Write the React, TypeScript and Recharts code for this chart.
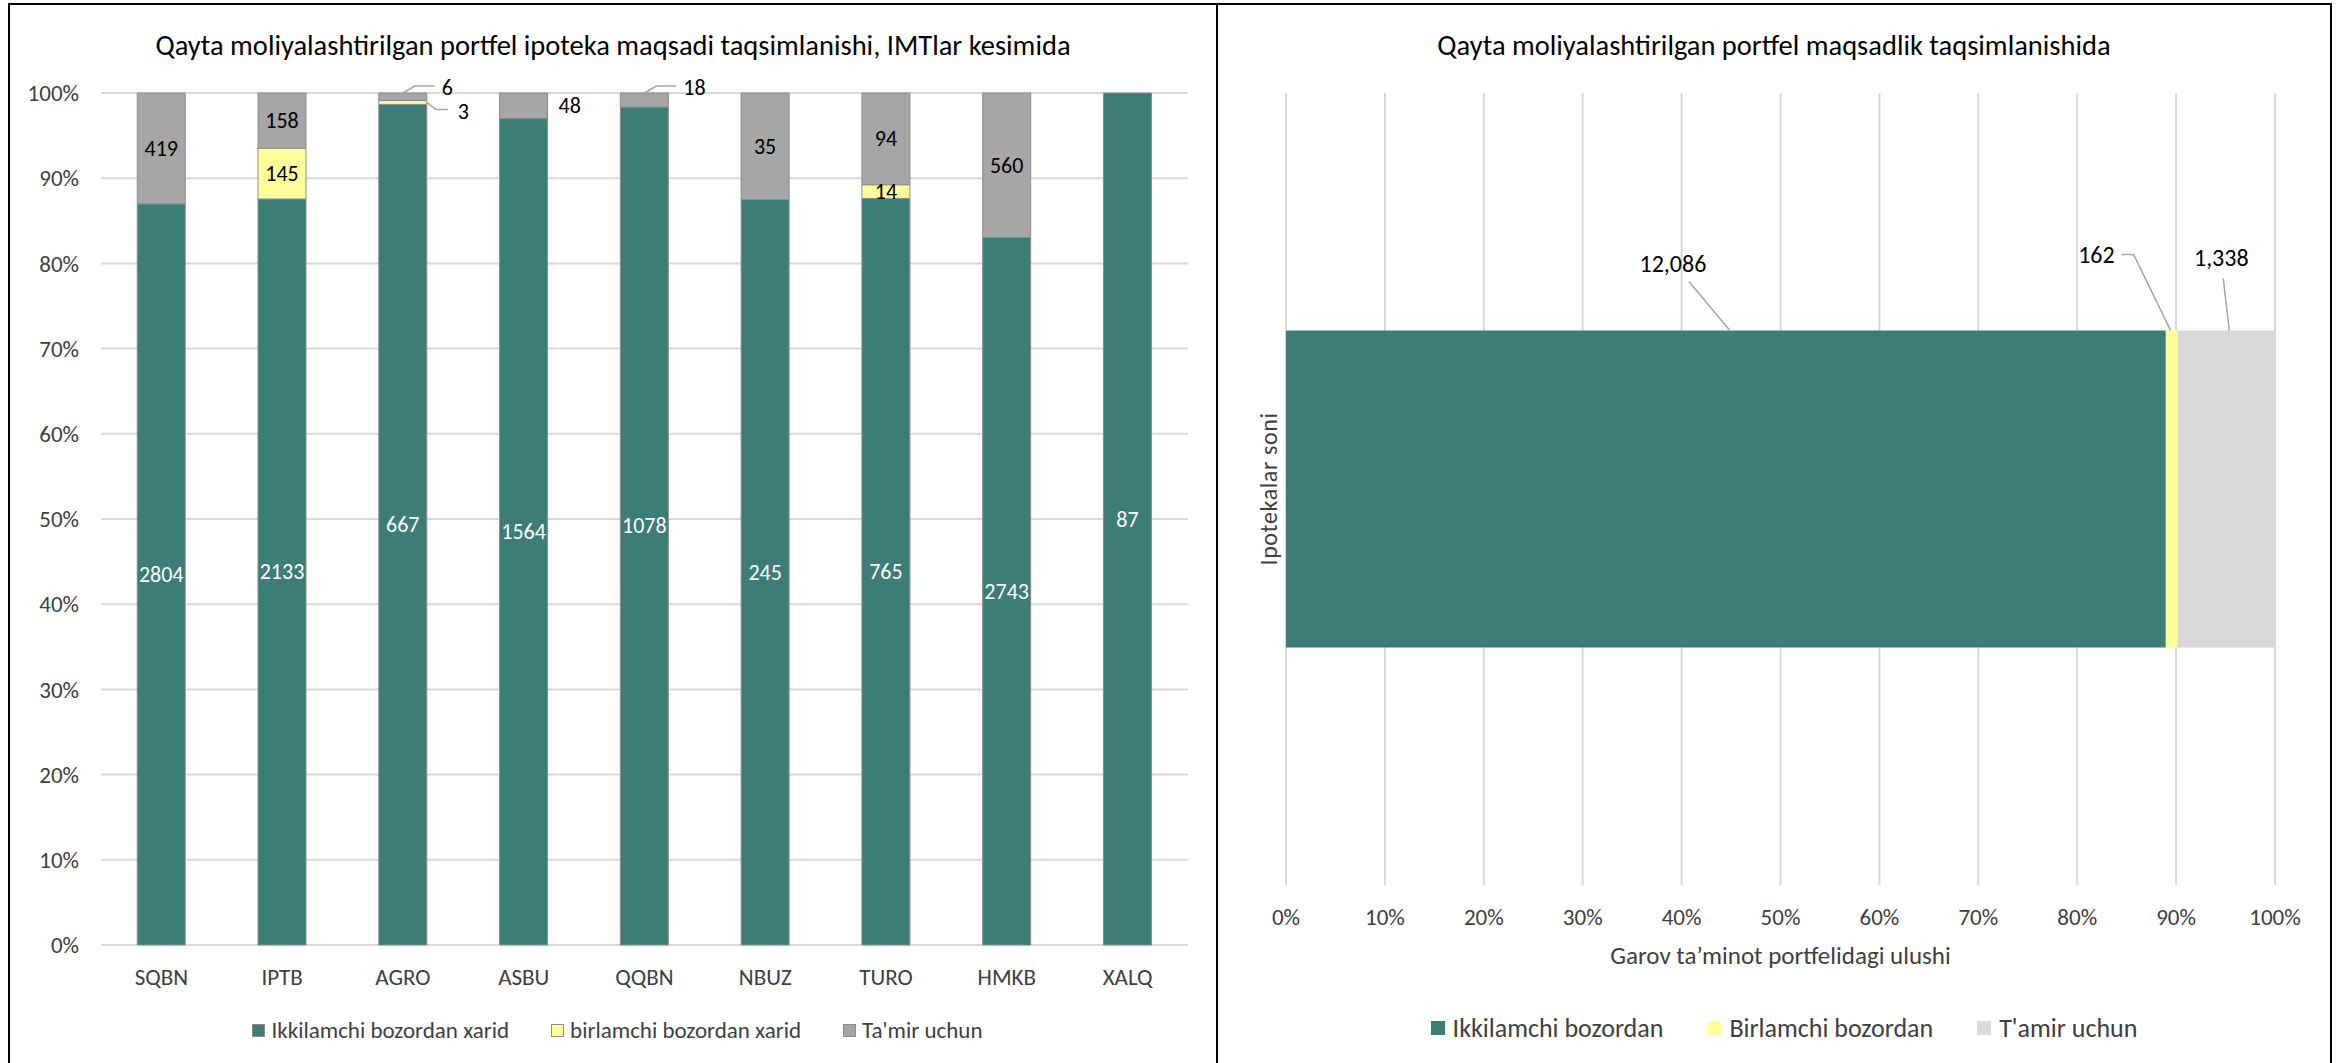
import React from 'react';
import { BarChart, Bar, XAxis, YAxis, CartesianGrid, Legend, LabelList, Label } from 'recharts';

// ---------------- Data ----------------
const banks = ['SQBN', 'IPTB', 'AGRO', 'ASBU', 'QQBN', 'NBUZ', 'TURO', 'HMKB', 'XALQ'];
const ikkilamchiXarid = [2804, 2133, 667, 1564, 1078, 245, 765, 2743, 87];
const birlamchiXarid = [0, 145, 3, 0, 0, 0, 14, 0, 0];
const tamirUchun = [419, 158, 6, 48, 18, 35, 94, 560, 0];

const portfelCategories = ['Ipotekalar soni'];
const portfelIkkilamchi = [12086];
const portfelBirlamchi = [162];
const portfelTamir = [1338];

const percentTicks = [0, 0.1, 0.2, 0.3, 0.4, 0.5, 0.6, 0.7, 0.8, 0.9, 1];

const leftTitle = 'Qayta moliyalashtirilgan portfel ipoteka maqsadi taqsimlanishi, IMTlar kesimida';
const rightTitle = 'Qayta moliyalashtirilgan portfel maqsadlik taqsimlanishida';
const leftSeriesNames = ['Ikkilamchi bozordan xarid', 'birlamchi bozordan xarid', "Ta'mir uchun"];
const rightSeriesNames = ['Ikkilamchi bozordan', 'Birlamchi bozordan', "T'amir uchun"];
const rightAxisTitle = 'Garov ta\u2019minot portfelidagi ulushi';
const rightCategoryTitle = 'Ipotekalar soni';

// ---------------- Styles ----------------
const FONT = 'Carlito, Lato, "Open Sans", sans-serif';
const TEAL = '#3C7D78';
const YELLOW = '#FFFF99';
const GRAY = '#A6A6A6';
const LIGHT_GRAY = '#D9D9D9';
const GRID = '#D9D9D9';
const TEXT = '#404040';
const LEADER = '#A6A6A6';

const seriesOrder = ['ikk', 'bir', 'tam'];
const leftColors: Record<string, string> = { ikk: TEAL, bir: YELLOW, tam: GRAY };
const rightColors: Record<string, string> = { ikk: TEAL, bir: YELLOW, tam: LIGHT_GRAY };

const leftData = banks.map((bank, i) => ({
  bank,
  ikk: ikkilamchiXarid[i],
  bir: birlamchiXarid[i],
  tam: tamirUchun[i],
}));

const rightData = portfelCategories.map((name, i) => ({
  name,
  ikk: portfelIkkilamchi[i],
  bir: portfelBirlamchi[i],
  tam: portfelTamir[i],
}));

const pct = (v: number) => `${Math.round(v * 100)}%`;

function rectOf(p: any) {
  const vb = p.viewBox || {};
  let x = vb.x ?? p.x;
  let y = vb.y ?? p.y;
  let w = vb.width ?? p.width;
  let h = vb.height ?? p.height;
  if (h < 0) { y = y + h; h = -h; }
  if (w < 0) { x = x + w; w = -w; }
  return { x: Number(x), y: Number(y), w: Number(w), h: Number(h) };
}

const LBL = 22;

function TealLabel(p: any) {
  const v = Number(p.value);
  if (!v) return null;
  const { x, y, w, h } = rectOf(p);
  return (
    <text x={x + w / 2} y={y + h / 2} fill="#fff" textAnchor="middle" dominantBaseline="central" fontSize={LBL} fontFamily={FONT}>
      {v}
    </text>
  );
}

function YellowLabel(p: any) {
  const v = Number(p.value);
  if (!v) return null;
  const { x, y, w, h } = rectOf(p);
  if (h >= 12) {
    return (
      <text x={x + w / 2} y={y + h / 2} fill="#000" textAnchor="middle" dominantBaseline="central" fontSize={LBL} fontFamily={FONT}>
        {v}
      </text>
    );
  }
  const sx = x + w;
  const sy = y + h / 2;
  return (
    <g>
      <polyline points={`${sx},${sy} ${sx + 9},${sy + 7} ${sx + 21},${sy + 7}`} fill="none" stroke={LEADER} strokeWidth={1.5} />
      <text x={sx + 31} y={sy + 9} fill="#000" textAnchor="start" dominantBaseline="central" fontSize={LBL} fontFamily={FONT}>
        {v}
      </text>
    </g>
  );
}

function GrayLabel(p: any) {
  const v = Number(p.value);
  if (!v) return null;
  const { x, y, w, h } = rectOf(p);
  if (h >= 30) {
    return (
      <text x={x + w / 2} y={y + h / 2} fill="#000" textAnchor="middle" dominantBaseline="central" fontSize={LBL} fontFamily={FONT}>
        {v}
      </text>
    );
  }
  if (h >= 20) {
    return (
      <text x={x + w + 11} y={y + h / 2} fill="#000" textAnchor="start" dominantBaseline="central" fontSize={LBL} fontFamily={FONT}>
        {v}
      </text>
    );
  }
  const cx = x + w / 2;
  return (
    <g>
      <polyline points={`${cx},${y} ${cx + 12},${y - 7} ${x + w + 8},${y - 7}`} fill="none" stroke={LEADER} strokeWidth={1.5} />
      <text x={x + w + 15} y={y - 6} fill="#000" textAnchor="start" dominantBaseline="central" fontSize={LBL} fontFamily={FONT}>
        {v}
      </text>
    </g>
  );
}

// callout placement for the right chart (relative to segment top-centre)
const rightCallouts: Record<string, { text: [number, number]; anchor: 'start' | 'middle' | 'end'; line: [number, number][] }> = {
  ikk: { text: [-53, -67], anchor: 'middle', line: [[-37, -49], [4, 0]] },
  bir: { text: [-57, -76], anchor: 'end', line: [[-50, -76], [-38, -76], [-1, 0]] },
  tam: { text: [-5, -73], anchor: 'middle', line: [[-3, -52], [3, 0]] },
};

const makeCallout = (key: string) => (p: any) => {
  const v = Number(p.value);
  if (!v) return null;
  const cfg = rightCallouts[key];
  const { x, y, w } = rectOf(p);
  const cx = x + w / 2;
  const pts = cfg.line.map(([dx, dy]) => `${cx + dx},${y + dy}`).join(' ');
  return (
    <g>
      <polyline points={pts} fill="none" stroke={LEADER} strokeWidth={1.5} />
      <text x={cx + cfg.text[0]} y={y + cfg.text[1]} fill="#000" textAnchor={cfg.anchor} dominantBaseline="central" fontSize={24} fontFamily={FONT}>
        {v.toLocaleString('en-US')}
      </text>
    </g>
  );
};

const makeLegend = (colors: Record<string, string>, opts: { fontSize: number; box: number; boxGap: number; gap: number; border?: boolean }) =>
  (props: any) => {
    const items = [...(props.payload || [])].sort(
      (a: any, b: any) => seriesOrder.indexOf(a.dataKey) - seriesOrder.indexOf(b.dataKey)
    );
    return (
      <div style={{ display: 'flex', justifyContent: 'center', alignItems: 'center', gap: opts.gap, fontFamily: FONT, fontSize: opts.fontSize, color: TEXT, lineHeight: '28px', whiteSpace: 'nowrap' }}>
        {items.map((it: any, i: number) => (
          <div key={i} style={{ display: 'flex', alignItems: 'center' }}>
            <span
              style={{
                display: 'inline-block',
                width: opts.box,
                height: opts.box,
                background: colors[it.dataKey] || it.color,
                marginRight: opts.boxGap,
                boxSizing: 'border-box',
                border: opts.border ? '1px solid #8C8C8C' : 'none',
              }}
            />
            <span>{it.value}</span>
          </div>
        ))}
      </div>
    );
  };

const LEFT_W = 1206;
const RIGHT_W = 1112;
const H = 1063;

function LeftChart() {
  return (
    <BarChart
      width={LEFT_W}
      height={H}
      data={leftData}
      stackOffset="expand"
      barCategoryGap="30%"
      margin={{ top: 93, right: 28, bottom: 58, left: 0 }}
    >
      <CartesianGrid vertical={false} stroke={GRID} strokeWidth={2} />
      <XAxis
        dataKey="bank"
        axisLine={false}
        tickLine={false}
        height={60}
        tickMargin={18}
        tick={{ fill: TEXT, fontSize: 23, fontFamily: FONT }}
      />
      <YAxis
        type="number"
        domain={[0, 1]}
        ticks={percentTicks}
        tickFormatter={pct}
        axisLine={false}
        tickLine={false}
        width={91}
        tickMargin={16}
        tick={{ fill: TEXT, fontSize: 23, fontFamily: FONT }}
      />
      <Legend
        layout="horizontal"
        verticalAlign="middle"
        align="center"
        itemSorter={null as any}
        wrapperStyle={{ top: 1016, left: 0, width: LEFT_W + 9 }}
        content={makeLegend(leftColors, { fontSize: 23, box: 13, boxGap: 6, gap: 42, border: true })}
      />
      <Bar dataKey="ikk" name={leftSeriesNames[0]} stackId="a" fill={TEAL} stroke="#8C8C8C" strokeWidth={1} isAnimationActive={false}>
        <LabelList dataKey="ikk" content={TealLabel} />
      </Bar>
      <Bar dataKey="bir" name={leftSeriesNames[1]} stackId="a" fill={YELLOW} stroke="#8C8C8C" strokeWidth={1} isAnimationActive={false}>
        <LabelList dataKey="bir" content={YellowLabel} />
      </Bar>
      <Bar dataKey="tam" name={leftSeriesNames[2]} stackId="a" fill={GRAY} stroke="#8C8C8C" strokeWidth={1} isAnimationActive={false}>
        <LabelList dataKey="tam" content={GrayLabel} />
      </Bar>
    </BarChart>
  );
}

function AxisTitle(p: any) {
  const vb = p.viewBox || {};
  return (
    <text x={vb.x + vb.width / 2} y={vb.y + 70} textAnchor="middle" dominantBaseline="central" fill={TEXT} fontSize={25} fontFamily={FONT}>
      {rightAxisTitle}
    </text>
  );
}

function CategoryTitle(p: any) {
  const vb = p.viewBox || {};
  const cx = vb.x + 50;
  const cy = vb.y + vb.height / 2;
  return (
    <text
      x={cx}
      y={cy}
      transform={`rotate(-90, ${cx}, ${cy})`}
      textAnchor="middle"
      dominantBaseline="central"
      fill={TEXT}
      fontSize={24}
      fontFamily={FONT}
      style={{ letterSpacing: '0.6px' }}
    >
      {rightCategoryTitle}
    </text>
  );
}

function RightChart() {
  return (
    <BarChart
      width={RIGHT_W}
      height={H}
      data={rightData}
      layout="vertical"
      stackOffset="expand"
      barCategoryGap="30%"
      margin={{ top: 93, right: 55, bottom: 118, left: 0 }}
    >
      <CartesianGrid horizontal={false} stroke={GRID} strokeWidth={2} />
      <XAxis
        type="number"
        domain={[0, 1]}
        ticks={percentTicks}
        tickFormatter={pct}
        axisLine={false}
        tickLine={false}
        height={60}
        tickMargin={18}
        tick={{ fill: TEXT, fontSize: 23, fontFamily: FONT }}
      >
        <Label content={AxisTitle} />
      </XAxis>
      <YAxis type="category" dataKey="name" width={68} axisLine={false} tickLine={false} tick={false}>
        <Label content={CategoryTitle} />
      </YAxis>
      <Legend
        layout="horizontal"
        verticalAlign="middle"
        align="center"
        itemSorter={null as any}
        wrapperStyle={{ top: 1014, left: 0, width: RIGHT_W + 20 }}
        content={makeLegend(rightColors, { fontSize: 26, box: 14, boxGap: 8, gap: 44 })}
      />
      <Bar dataKey="ikk" name={rightSeriesNames[0]} stackId="a" fill={TEAL} isAnimationActive={false}>
        <LabelList dataKey="ikk" content={makeCallout('ikk')} />
      </Bar>
      <Bar dataKey="bir" name={rightSeriesNames[1]} stackId="a" fill={YELLOW} isAnimationActive={false}>
        <LabelList dataKey="bir" content={makeCallout('bir')} />
      </Bar>
      <Bar dataKey="tam" name={rightSeriesNames[2]} stackId="a" fill={LIGHT_GRAY} isAnimationActive={false}>
        <LabelList dataKey="tam" content={makeCallout('tam')} />
      </Bar>
    </BarChart>
  );
}

export default function App() {
  const titleStyle: React.CSSProperties = {
    position: 'absolute',
    top: 29,
    height: 34,
    lineHeight: '34px',
    textAlign: 'center',
    fontFamily: FONT,
    fontSize: 28.5,
    color: '#000',
    whiteSpace: 'nowrap',
  };
  return (
    <div style={{ position: 'absolute', left: 0, top: 0, width: 2344, height: H, background: '#fff', overflow: 'hidden' }}>
      <div style={{ position: 'absolute', left: 10, top: 0 }}>
        <LeftChart />
      </div>
      <div style={{ position: 'absolute', left: 1218, top: 0 }}>
        <RightChart />
      </div>
      <div style={{ ...titleStyle, left: 10, width: LEFT_W }}>{leftTitle}</div>
      <div style={{ ...titleStyle, left: 1218, width: RIGHT_W }}>{rightTitle}</div>
      {/* frame */}
      <div style={{ position: 'absolute', left: 8, top: 3, width: 2324, height: 2, background: '#000' }} />
      <div style={{ position: 'absolute', left: 8, top: 3, width: 2, height: H, background: '#000' }} />
      <div style={{ position: 'absolute', left: 1216, top: 3, width: 2, height: H, background: '#000' }} />
      <div style={{ position: 'absolute', left: 2330, top: 3, width: 2, height: H, background: '#000' }} />
    </div>
  );
}
